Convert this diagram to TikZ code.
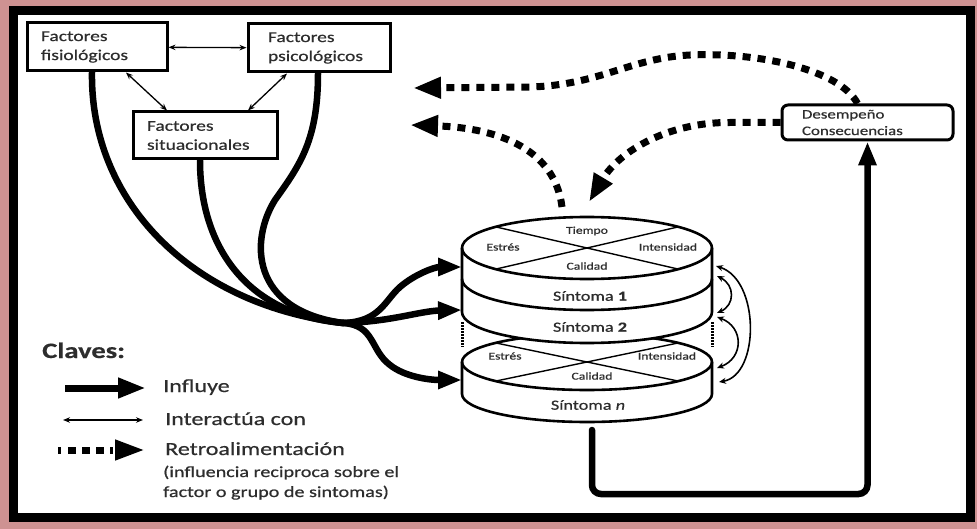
\documentclass[tikz,border=0pt]{standalone}
\usepackage{fontspec}
\setmainfont{Carlito}[FakeStretch=1.3, FakeBold=0.6]
\usetikzlibrary{arrows.meta}
\definecolor{frameback}{RGB}{206,146,146}
\definecolor{txt}{RGB}{45,45,45}
\begin{document}
\begin{tikzpicture}[x=1pt,y=1pt,
  factbox/.style={draw, line width=3pt, rectangle, align=left, text=txt,
    font=\fontsize{15}{19}\selectfont, inner ysep=0pt},
  resbox/.style={draw, line width=3pt, rectangle, rounded corners=6pt, align=left, text=txt,
    font=\fontsize{13}{16.5}\selectfont, inner ysep=0pt},
  bundle/.style={line width=6.5pt, line cap=round},
  influ/.style={line width=6.5pt, line cap=round, -{Triangle[length=24pt,width=17pt]}},
  interact/.style={line width=1.3pt, {Stealth[length=7pt,width=5.5pt]}-{Stealth[length=7pt,width=5.5pt]}},
  feedback/.style={line width=7pt, dash pattern=on 8pt off 7pt, -{Triangle[length=28pt,width=20pt]}},
  cyl/.style={draw, line width=2.6pt, fill=white},
  cylline/.style={line width=2.6pt},
  chord/.style={line width=1.4pt},
  sidedots/.style={line width=3pt, dash pattern=on 1.6pt off 1.4pt},
  loopline/.style={line width=1.6pt, {Stealth[length=7pt,width=6pt]}-{Stealth[length=7pt,width=6pt]}},
  small/.style={text=txt, font=\fontsize{10.5}{12}\selectfont, inner sep=0pt},
  symlabel/.style={text=txt, font=\fontsize{14}{16}\selectfont, inner sep=0pt},
  legend/.style={text=txt, font=\fontsize{18.5}{22}\selectfont, inner sep=0pt, anchor=base west},
  legendsmall/.style={text=txt, font=\fontsize{15.5}{20}\selectfont, inner sep=0pt, anchor=base west}]

% canvas and frame
\useasboundingbox (0,0) rectangle (977,-529);
\fill[frameback] (0,0) rectangle (977,-529);
\filldraw[fill=white, draw=black, line width=9pt] (13.5,-11) rectangle (970.5,-517.5);

% factor boxes
\node[factbox, minimum width=140pt, minimum height=48pt, text width=112pt, inner xsep=14pt]
  (fis) at (97,-47) {Factores\\fisiológicos};
\node[factbox, minimum width=142pt, minimum height=48pt, text width=102pt, inner xsep=20pt]
  (psi) at (319,-48) {Factores\\psicológicos};
\node[factbox, minimum width=144pt, minimum height=47pt, text width=116pt, inner xsep=14pt]
  (sit) at (205,-135.5) {Factores\\situacionales};

\draw[interact] (fis) -- (psi);
\draw[interact] ([xshift=29pt]fis.south) -- ([xshift=-38pt]sit.north);
\draw[interact] ([xshift=-32pt]psi.south) -- ([xshift=43pt]sit.north);

% outcome box
\node[resbox, minimum width=171pt, minimum height=35pt, text width=131pt, inner xsep=20pt]
  (des) at (867.5,-122.5) {Desempeño\\Consecuencias};

% lower cylinder (symptom n)
\path[cyl] (462,-362) -- (462,-394) arc[start angle=180,end angle=360,x radius=125pt,y radius=28pt]
  -- (712,-362) arc[start angle=0,end angle=180,x radius=125pt,y radius=28pt] -- cycle;
\draw[cylline] (462,-362) arc[start angle=180,end angle=360,x radius=125pt,y radius=28pt];
\coordinate (lc) at (587,-362);
\draw[chord] ([shift={(137:125pt and 28pt)}]lc) -- ([shift={(-43:125pt and 28pt)}]lc);
\draw[chord] ([shift={(43:125pt and 28pt)}]lc) -- ([shift={(223:125pt and 28pt)}]lc);
\node[small] (lest) at (505,-356) {Estrés};
\node[small] (lint) at (667,-356) {Intensidad};
\node[small] (lcal) at (592,-376) {Calidad};
\node[symlabel] (sn) at (588,-405) {Síntoma \textit{n}};

% upper stack (symptoms 1 and 2)
\path[cyl] (462,-248) -- (462,-312) arc[start angle=180,end angle=360,x radius=125pt,y radius=31pt]
  -- (712,-248) arc[start angle=0,end angle=180,x radius=125pt,y radius=31pt] -- cycle;
\draw[cylline] (462,-248) arc[start angle=180,end angle=360,x radius=125pt,y radius=31pt];
\draw[cylline] (462,-279) arc[start angle=180,end angle=360,x radius=125pt,y radius=31pt];
\coordinate (uc) at (587,-248);
\draw[chord] ([shift={(137:125pt and 31pt)}]uc) -- ([shift={(-43:125pt and 31pt)}]uc);
\draw[chord] ([shift={(43:125pt and 31pt)}]uc) -- ([shift={(223:125pt and 31pt)}]uc);
\node[small] (utie) at (587,-231) {Tiempo};
\node[small] (uest) at (503,-247) {Estrés};
\node[small] (uint) at (668,-247) {Intensidad};
\node[small] (ucal) at (587,-266) {Calidad};
\node[symlabel] (s1) at (590,-296) {Síntoma \textbf{1}};
\node[symlabel] (s2) at (590,-327) {Síntoma \textbf{2}};

% dotted sides between the stacks
\draw[sidedots] (462,-322) -- (462,-347);
\draw[sidedots] (712,-322) -- (712,-347);

% reciprocal links between symptoms
\coordinate (r1a) at (716,-266);
\coordinate (r1b) at (719,-382);
\coordinate (r2a) at (717,-276);
\coordinate (r2b) at (717,-313);
\coordinate (r3a) at (717,-317);
\coordinate (r3b) at (717,-368);
\draw[loopline] (r1a) .. controls (760,-280) and (760,-375) .. (r1b);
\draw[loopline] (r2a) .. controls (735,-285) and (735,-305) .. (r2b);
\draw[loopline] (r3a) .. controls (744,-327) and (744,-358) .. (r3b);

% influence bundle
\coordinate (hub) at (343,-323);
\coordinate (s1in) at (462,-267);
\coordinate (s2in) at (462,-310);
\coordinate (snin) at (462,-380);
\draw[bundle] ([xshift=-5pt]fis.south) .. controls (90,-200) and (190,-305) .. (hub);
\draw[bundle] ([xshift=-5pt]sit.south) .. controls (200,-250) and (250,-315) .. (hub);
\draw[bundle] ([xshift=-1pt]psi.south) .. controls (318,-140) and (300,-165) .. (275,-200)
  .. controls (250,-240) and (250,-310) .. (hub);
\draw[influ] (hub) .. controls (380,-322) and (385,-300) .. (400,-287)
  .. controls (415,-274) and (435,-267) .. (s1in);
\draw[influ] (hub) .. controls (390,-322) and (420,-311) .. (s2in);
\draw[influ] (hub) .. controls (375,-325) and (370,-350) .. (390,-365)
  .. controls (405,-377) and (430,-380) .. (snin);

% symptoms to outcome
\coordinate (snout) at (592,-430);
\draw[influ, rounded corners=9pt] (snout) -- (592,-494) -- (867.5,-494) -- (des.south);

% feedback
\coordinate (fbA) at (413,-88);
\coordinate (fbB) at (589,-202);
\coordinate (cyltop) at (562,-207);
\coordinate (fbC) at (410,-125);
\draw[feedback] ([xshift=-10pt]des.north) .. controls (840,-70) and (760,-52) .. (690,-55)
  .. controls (630,-58) and (600,-85) .. (530,-87) -- (fbA);
\draw[feedback] (des.west) -- (730,-122.5) .. controls (670,-122) and (620,-150) .. (fbB);
\draw[feedback] (cyltop) .. controls (555,-150) and (500,-128) .. (fbC);

% key
\node[text=txt, font=\bfseries\fontsize{22}{26}\selectfont, inner sep=0pt, anchor=base west]
  (claves) at (42,-358) {Claves:};
\coordinate (k1a) at (65,-388);
\coordinate (k1b) at (146,-388);
\coordinate (k2a) at (63,-420);
\coordinate (k2b) at (143,-420);
\coordinate (k3a) at (58,-450);
\coordinate (k3b) at (145,-450);
\draw[line width=7pt, -{Triangle[length=28pt,width=19pt]}] (k1a) -- (k1b);
\draw[interact] (k2a) -- (k2b);
\draw[line width=7pt, dash pattern=on 3pt off 7pt on 8pt off 6pt on 8pt off 6pt on 8pt off 6pt,
  -{Triangle[length=30pt,width=19pt]}] (k3a) -- (k3b);
\node[legend] (kinf) at (163,-392) {Influye};
\node[legend] (kint) at (165,-425) {Interactúa con};
\node[legend] (kret) at (165,-455) {Retroalimentación};
\node[legendsmall] (kex1) at (163,-477) {(influencia reciproca sobre el};
\node[legendsmall] (kex2) at (163,-497) {factor o grupo de sintomas)};
\end{tikzpicture}
\end{document}
